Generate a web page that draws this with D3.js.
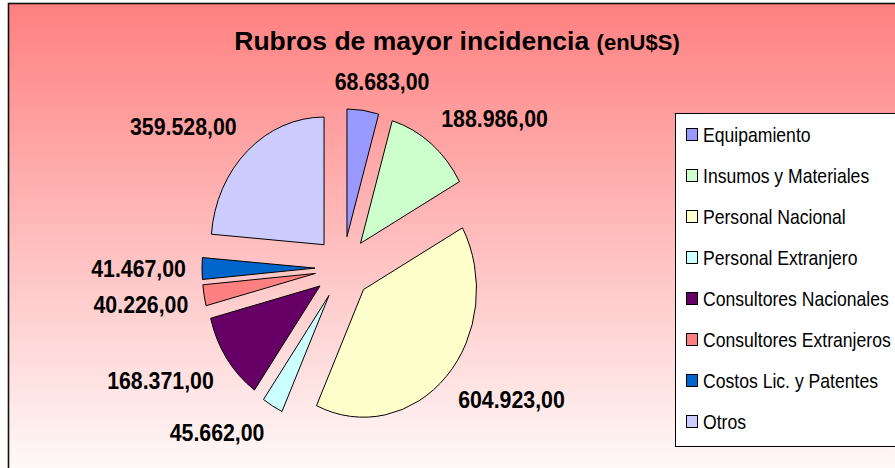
<!DOCTYPE html>
<html>
<head>
<meta charset="utf-8">
<script src="https://cdn.jsdelivr.net/npm/d3@7"></script>
<style>
  body { margin: 0; background: #fff; }
  svg { display: block; font-family: "Liberation Sans", Arial, sans-serif; }
</style>
</head>
<body>
<svg id="chart" width="895" height="468"></svg>
<script>
// chart data
const categories = [
    'Equipamiento',
    'Insumos y Materiales',
    'Personal Nacional',
    'Personal Extranjero',
    'Consultores Nacionales',
    'Consultores Extranjeros',
    'Costos Lic. y Patentes',
    'Otros'
];
const values = [68683, 188986, 604923, 45662, 168371, 40226, 41467, 359528];
const colors = ['#9999ff', '#ccffcc', '#ffffcc', '#ccffff', '#660066', '#ff8080', '#0066cc', '#ccccff'];

const titleMain = 'Rubros de mayor incidencia';
const titleUnit = '(enU$S)';

const locale = d3.formatLocale({ decimal: ',', thousands: '.', grouping: [3], currency: ['', ''] });
const fmt = locale.format(',.2f');

const svg = d3.select('#chart');

// background with gradient + frame
const grad = svg.append('defs').append('linearGradient')
    .attr('id', 'bg')
    .attr('x1', 0).attr('y1', 0).attr('x2', 0).attr('y2', 1);
grad.append('stop').attr('offset', '0%').attr('stop-color', '#ff8080');
grad.append('stop').attr('offset', '100%').attr('stop-color', '#ffffff');

svg.append('rect')
    .attr('x', 8.5).attr('y', 3.5)
    .attr('width', 920).attr('height', 490)
    .attr('fill', 'url(#bg)')
    .attr('stroke', '#111')
    .attr('stroke-width', 1.6);

// title
svg.append('text')
    .attr('x', 457)
    .attr('y', 50)
    .attr('text-anchor', 'middle')
    .attr('font-weight', 'bold')
    .attr('fill', '#000')
    .call(t => {
        t.append('tspan').attr('font-size', 26.5).text(titleMain + ' ');
        t.append('tspan').attr('font-size', 22).text(titleUnit);
    });

// pie
const cx = 343, cy = 268, R = 113, ySquash = 1.13, explode = 28;

const arcs = d3.pie().sort(null).value(d => d)(values);
const arc = d3.arc().innerRadius(0).outerRadius(R);
const mid = d => (d.startAngle + d.endAngle) / 2;

const pieG = svg.append('g');

pieG.selectAll('path')
    .data(arcs)
    .enter()
    .append('path')
    .attr('transform', d => {
        const a = mid(d);
        const dx = explode * Math.sin(a);
        const dy = -explode * Math.cos(a) * ySquash;
        return `translate(${cx + dx},${cy + dy}) scale(1,${ySquash})`;
    })
    .attr('d', arc)
    .attr('fill', (d, i) => colors[i])
    .attr('stroke', '#000')
    .attr('stroke-width', 1)
    .attr('stroke-linejoin', 'round')
    .attr('vector-effect', 'non-scaling-stroke');

// data labels
const labelR = 157, labelScaleX = 0.87, labelFont = 24.5;
const clamp = v => Math.max(-1, Math.min(1, v));

const labels = svg.append('g')
    .selectAll('text')
    .data(arcs)
    .enter()
    .append('text')
    .attr('text-anchor', 'middle')
    .attr('font-weight', 'bold')
    .attr('font-size', labelFont)
    .attr('fill', '#000')
    .text(d => fmt(d.data));

labels.attr('transform', function (d) {
    const a = mid(d);
    const w = this.getComputedTextLength() * labelScaleX;
    const h = 22;
    const px = cx + labelR * Math.sin(a);
    const py = cy - labelR * Math.cos(a) * ySquash;
    const bx = px + (w / 2) * clamp(2.5 * Math.sin(a));
    const by = py + (h / 2) * clamp(-3 * Math.cos(a));
    return `translate(${bx},${by + 8.8}) scale(${labelScaleX},1)`;
});

// legend
svg.append('rect')
    .attr('x', 675.5).attr('y', 113.5)
    .attr('width', 260).attr('height', 333)
    .attr('fill', '#fff')
    .attr('stroke', '#000')
    .attr('stroke-width', 1);

const rowY = d3.scalePoint()
    .domain(categories)
    .range([135, 422]);

const items = svg.append('g')
    .selectAll('g')
    .data(categories)
    .enter()
    .append('g')
    .attr('transform', d => `translate(0,${rowY(d)})`);

items.append('rect')
    .attr('x', 686.5).attr('y', -6.5)
    .attr('width', 11).attr('height', 12)
    .attr('fill', (d, i) => colors[i])
    .attr('stroke', '#000')
    .attr('stroke-width', 1);

items.append('text')
    .attr('transform', 'translate(703,6.5) scale(0.88,1)')
    .attr('font-size', 20)
    .attr('fill', '#000')
    .text(d => d);
</script>
</body>
</html>
